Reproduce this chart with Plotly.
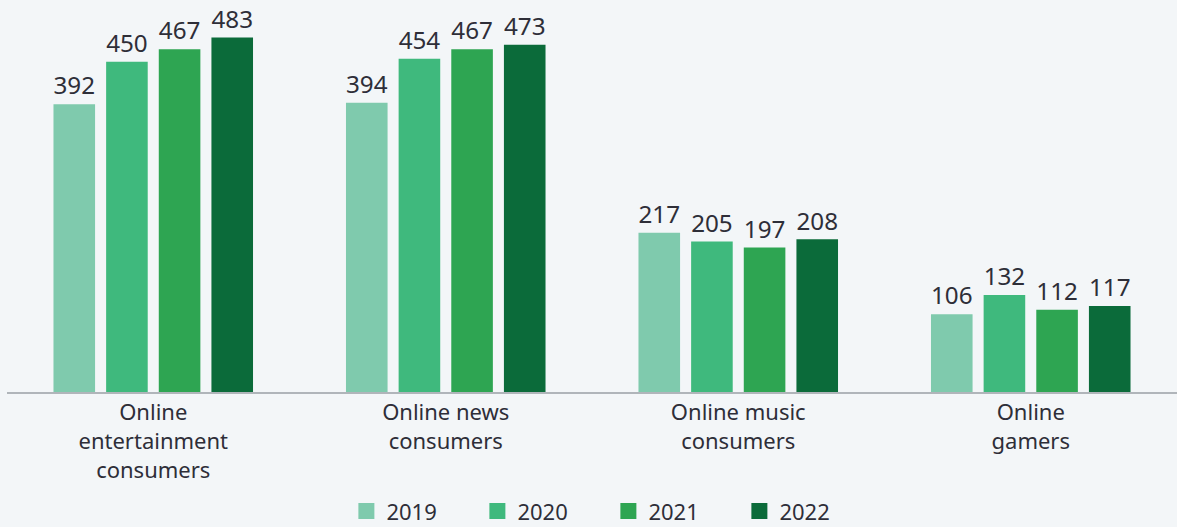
import plotly.graph_objects as go

# Consumer groups and yearly values (millions)
categories = ["Online<br>entertainment<br>consumers", "Online news<br>consumers",
              "Online music<br>consumers", "Online<br>gamers"]
years = ["2019", "2020", "2021", "2022"]
values_2019 = [392, 394, 217, 106]
values_2020 = [450, 454, 205, 132]
values_2021 = [467, 467, 197, 112]
values_2022 = [483, 473, 208, 117]
colors = ["#7fcaad", "#3fb97d", "#2ea552", "#0b6b3a"]

series = [values_2019, values_2020, values_2021, values_2022]
text_color = "#2e2e38"
bg = "#f3f6f8"
font_family = "Noto Sans, DejaVu Sans, sans-serif"

fig = go.Figure()

for year, vals, col in zip(years, series, colors):
    fig.add_trace(go.Bar(
        x=categories, y=vals, name=year,
        marker=dict(color=col, line=dict(width=0)),
        text=vals, textposition="outside", cliponaxis=False,
        textfont=dict(size=25, color=text_color),
        showlegend=False,
    ))

# legend entries with bigger square swatches
for year, col in zip(years, colors):
    fig.add_trace(go.Scatter(
        x=[None], y=[None], mode="markers", name=year,
        marker=dict(symbol="square", size=16, color=col),
    ))

fig.update_layout(
    width=1177, height=527,
    margin=dict(l=7, r=0, t=0, b=135),
    paper_bgcolor=bg, plot_bgcolor=bg,
    font=dict(family=font_family, color=text_color, size=22),
    barmode="group", bargap=0.28, bargroupgap=0.21,
    legend=dict(orientation="h", x=0.514, xanchor="center",
                y=0.03, yref="container", yanchor="middle",
                font=dict(size=22), entrywidth=86, entrywidthmode="pixels",
                itemsizing="trace"),
)
fig.update_xaxes(showline=True, linecolor="#b0b5ba", linewidth=2, ticks="",
                 tickfont=dict(size=22))
fig.update_yaxes(visible=False, range=[0, 534], showgrid=False, zeroline=False)

# drop the default page margin so the chart fills the window
fig.write_html("out.html", config={"displayModeBar": False}, post_script=(
    "document.body.style.margin='0';"
    "document.body.style.background='" + bg + "';"
    "document.body.style.overflow='hidden';"
))
